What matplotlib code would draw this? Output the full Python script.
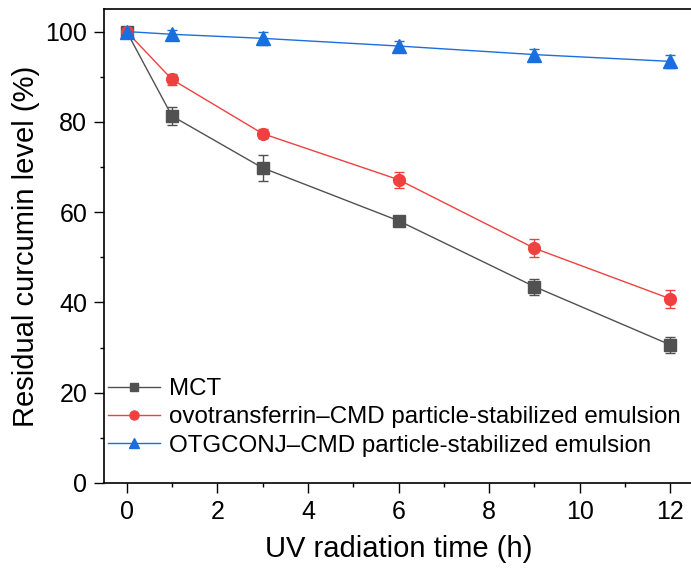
import matplotlib.pyplot as plt
from matplotlib.lines import Line2D
from matplotlib.ticker import MultipleLocator

plt.rcParams['font.family'] = ['Liberation Sans', 'DejaVu Sans']

# data
time_h = [0, 1, 3, 6, 9, 12]

mct = [100, 81.3, 69.8, 58.1, 43.5, 30.6]
mct_err = [0.6, 2.0, 2.8, 1.0, 1.8, 1.8]

ovo = [100, 89.4, 77.4, 67.2, 52.0, 40.8]
ovo_err = [0.6, 1.2, 1.0, 1.8, 2.0, 2.0]

otg = [100, 99.4, 98.5, 96.8, 94.9, 93.4]
otg_err = [0.5, 1.0, 1.5, 1.2, 1.2, 1.5]

labels = ["MCT",
          "ovotransferrin\u2013CMD particle-stabilized emulsion",
          "OTGCONJ\u2013CMD particle-stabilized emulsion"]
colors = ["#515151", "#F14040", "#1A6FDF"]
markers = ["s", "o", "^"]
msizes = [8, 8.5, 9.5]

fig = plt.figure(figsize=(6.91, 5.74), dpi=100)
ax = fig.add_axes([104 / 691, 91 / 574, 589 / 691, 474 / 574])

handles = []
for y, err, lab, c, m, ms in zip([mct, ovo, otg], [mct_err, ovo_err, otg_err],
                                 labels, colors, markers, msizes):
    ax.errorbar(time_h, y, yerr=err, color=c, marker=m, markersize=ms,
                linewidth=1, elinewidth=1, capsize=3.5, capthick=1,
                ecolor=c)
    handles.append(Line2D([], [], color=c, marker=m, markersize=ms - 2,
                          linewidth=1, label=lab))

ax.set_xlim(-0.5, 12.5)
ax.set_ylim(0, 105)
ax.xaxis.set_major_locator(MultipleLocator(2))
ax.xaxis.set_minor_locator(MultipleLocator(1))
ax.yaxis.set_major_locator(MultipleLocator(20))
ax.yaxis.set_minor_locator(MultipleLocator(10))
ax.tick_params(which='major', direction='out', length=7, width=1,
               labelsize=18, pad=5)
ax.tick_params(which='minor', direction='out', length=3, width=1)
for s in ax.spines.values():
    s.set_linewidth(1.2)
ax.spines['right'].set_visible(False)

ax.set_xlabel("UV radiation time (h)", fontsize=21, labelpad=8)
ax.set_ylabel("Residual curcumin level (%)", fontsize=21, labelpad=4)

ax.legend(handles=handles, loc='lower left', frameon=False, fontsize=17.4,
          handlelength=2.15, handletextpad=0.36, labelspacing=0.26,
          borderaxespad=0.0, bbox_to_anchor=(-0.009, 0.035))

fig.savefig("out.png", dpi=100)
